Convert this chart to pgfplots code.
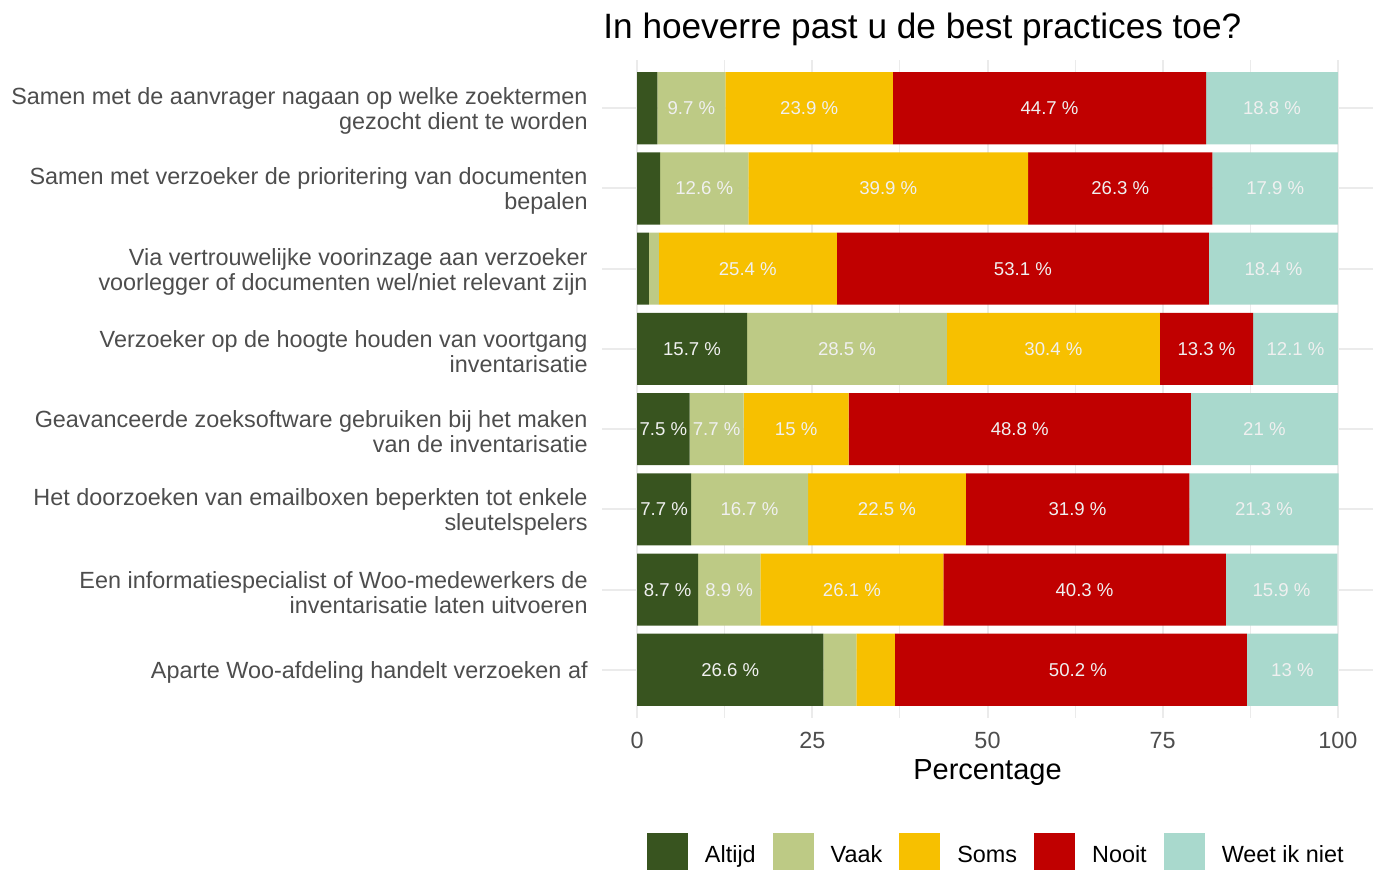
\documentclass[border=0pt]{standalone}
\usepackage{pgfplots}
\pgfplotsset{compat=1.18}
\usepackage{fontspec}
\setmainfont{Liberation Sans}
\definecolor{cA}{HTML}{38541F}
\definecolor{cV}{HTML}{BDCA85}
\definecolor{cS}{HTML}{F7C000}
\definecolor{cN}{HTML}{C00000}
\definecolor{cW}{HTML}{A9D9CD}
\definecolor{gridc}{HTML}{EBEBEB}
\definecolor{tickc}{HTML}{4D4D4D}
\pgfplotsset{
  base/.style={
    width=385.5pt, height=329pt, scale only axis,
    xmin=-5, xmax=105, ymin=0.4, ymax=8.6, y dir=reverse,
  },
  legsq/.style={legend image code/.code={\fill[##1] (0pt,-6.05pt) rectangle (20.5pt,14.45pt); \path (29pt,0pt);}},
}
\begin{document}
\begin{tikzpicture}
\begin{axis}[name=ax, base,
  xbar stacked, bar width=0.9,
  xtick={0,25,50,75,100}, minor xtick={12.5,37.5,62.5,87.5},
  ytick={1,...,8},
  yticklabels={
    {Samen met de aanvrager nagaan op welke zoektermen\\gezocht dient te worden},
    {Samen met verzoeker de prioritering van documenten\\bepalen},
    {Via vertrouwelijke voorinzage aan verzoeker\\voorlegger of documenten wel/niet relevant zijn},
    {Verzoeker op de hoogte houden van voortgang\\inventarisatie},
    {Geavanceerde zoeksoftware gebruiken bij het maken\\van de inventarisatie},
    {Het doorzoeken van emailboxen beperkten tot enkele\\sleutelspelers},
    {Een informatiespecialist of Woo-medewerkers de\\inventarisatie laten uitvoeren},
    {Aparte Woo-afdeling handelt verzoeken af}},
  axis line style={draw=none},
  major tick length=0pt, minor tick length=0pt,
  xmajorgrids, xminorgrids, ymajorgrids,
  major grid style={draw=gridc, line width=1pt},
  minor grid style={draw=gridc, line width=0.5pt},
  /pgf/number format/assume math mode=true,
  yticklabel style={font=\fontsize{11.7}{12.5}\selectfont, text=tickc, align=right, anchor=east, inner sep=0pt, xshift=-7pt, yshift=-1.5pt},
  xticklabel style={font=\fontsize{11.7}{14}\selectfont, text=tickc, anchor=base, inner sep=0pt, yshift=-15.25pt},
  xlabel={Percentage},
  xlabel style={font=\fontsize{14.5}{17}\selectfont, at={(axis description cs:0.5,0)}, anchor=base, inner sep=0pt, yshift=-30.5pt},
  title={In hoeverre past u de best practices toe?},
  title style={font=\fontsize{17.6}{21}\selectfont, at={(axis description cs:0,1)}, anchor=base west, inner sep=0pt, xshift=0.5pt, yshift=5pt},
  legend columns=5,
  legend style={at={(axis description cs:0,0)}, anchor=west, xshift=22.5pt, yshift=-67.75pt,
    draw=none, fill=none, inner sep=0pt, outer sep=0pt, nodes={inner sep=0pt, yshift=3.2pt},
    font=\fontsize{11.7}{14}\selectfont,
    /tikz/every even column/.append style={column sep=8.5pt}},
  legend cell align=left,
]
\addplot[fill=cA, draw=none, legsq] coordinates {(2.9,1) (3.3,2) (1.7,3) (15.7,4) (7.5,5) (7.7,6) (8.7,7) (26.6,8)};
\addlegendentry{Altijd}
\addplot[fill=cV, draw=none, legsq] coordinates {(9.7,1) (12.6,2) (1.4,3) (28.5,4) (7.7,5) (16.7,6) (8.9,7) (4.7,8)};
\addlegendentry{Vaak}
\addplot[fill=cS, draw=none, legsq] coordinates {(23.9,1) (39.9,2) (25.4,3) (30.4,4) (15,5) (22.5,6) (26.1,7) (5.5,8)};
\addlegendentry{Soms}
\addplot[fill=cN, draw=none, legsq] coordinates {(44.7,1) (26.3,2) (53.1,3) (13.3,4) (48.8,5) (31.9,6) (40.3,7) (50.2,8)};
\addlegendentry{Nooit}
\addplot[fill=cW, draw=none, legsq] coordinates {(18.8,1) (17.9,2) (18.4,3) (12.1,4) (21,5) (21.3,6) (15.9,7) (13,8)};
\addlegendentry{Weet ik niet}
\end{axis}
\begin{axis}[base, hide axis]
\addplot[draw=none, mark=none, point meta=explicit,
  nodes near coords={\pgfmathprintnumber[fixed, precision=1, assume math mode=true]{\pgfplotspointmeta}~\%},
  every node near coord/.append style={anchor=center, text=white!94!black, inner sep=0pt, font=\fontsize{9.3}{11}\selectfont}]
  table[x=x, y=y, meta=v] {
x y v
7.75 1 9.7
24.55 1 23.9
58.85 1 44.7
90.6 1 18.8
9.6 2 12.6
35.85 2 39.9
68.95 2 26.3
91.05 2 17.9
15.8 3 25.4
55.05 3 53.1
90.8 3 18.4
7.85 4 15.7
29.95 4 28.5
59.4 4 30.4
81.25 4 13.3
93.95 4 12.1
3.75 5 7.5
11.35 5 7.7
22.7 5 15
54.6 5 48.8
89.5 5 21
3.85 6 7.7
16.05 6 16.7
35.65 6 22.5
62.85 6 31.9
89.45 6 21.3
4.35 7 8.7
13.15 7 8.9
30.65 7 26.1
63.85 7 40.3
91.95 7 15.9
13.3 8 26.6
62.9 8 50.2
93.5 8 13
};
\end{axis}
\pgfresetboundingbox
\path[use as bounding box] ([shift={(-301pt,-76pt)}]ax.south west) rectangle ([shift={(0pt,30pt)}]ax.north east);
\end{tikzpicture}
\end{document}
